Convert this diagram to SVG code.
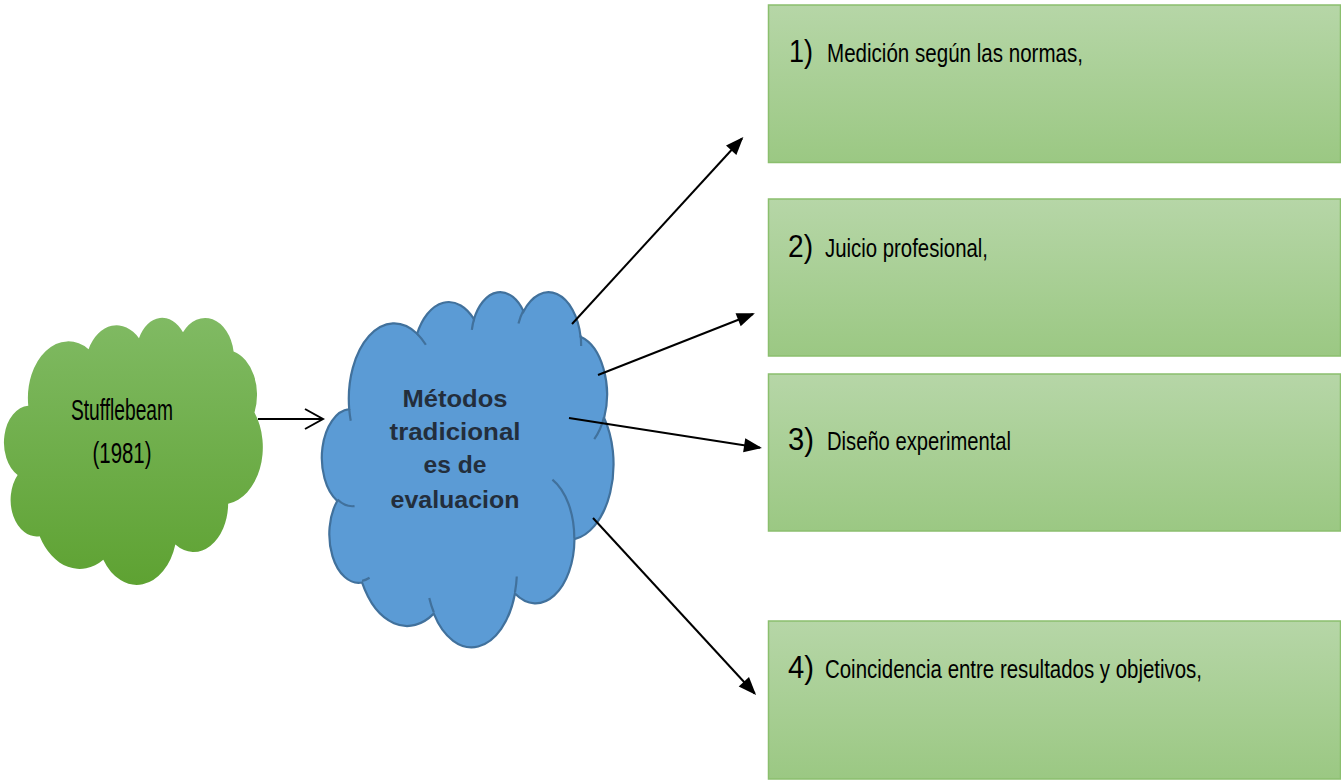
<svg xmlns="http://www.w3.org/2000/svg" width="1341" height="781" viewBox="0 0 1341 781">
<style>
.box{fill:url(#gBox);stroke:#8bbf6e;stroke-width:1.5}
.num{font-family:"Liberation Sans",Arial,sans-serif;font-size:31px;fill:#000}
.lbl{font-family:"Liberation Sans",Arial,sans-serif;font-size:25px;fill:#000}
.cl1{font-family:"Liberation Sans",Arial,sans-serif;font-size:30px;fill:#000;text-anchor:middle}
.cl2{font-family:"Liberation Sans",Arial,sans-serif;font-size:24px;font-weight:bold;fill:#232e3c;text-anchor:middle}
.arr{stroke:#000;stroke-width:2;fill:none}
.bc{stroke:#41719c;stroke-width:2.2}
</style>
<defs>
<linearGradient id="gBox" x1="0" y1="0" x2="0" y2="1">
<stop offset="0" stop-color="#b6d6a7"/><stop offset="1" stop-color="#9bc883"/>
</linearGradient>
<linearGradient id="gGreen" x1="0" y1="0" x2="0" y2="1">
<stop offset="0" stop-color="#80ba63"/><stop offset="1" stop-color="#5ea232"/>
</linearGradient>
<marker id="head" markerUnits="userSpaceOnUse" markerWidth="20" markerHeight="16" viewBox="0 -8 18 16" refX="16" refY="0" orient="auto">
<path d="M0,-7 L18,0 L0,7 Z" fill="#000"/>
</marker>
<marker id="open" markerUnits="userSpaceOnUse" markerWidth="22" markerHeight="24" viewBox="-20 -12 22 24" refX="0" refY="0" orient="auto">
<path d="M-18,-10 L0,0 L-18,10" fill="none" stroke="#000" stroke-width="2"/>
</marker>
</defs>

<g id="stufflebeam">
<path d="M3900 14370 A6753 9190 0 0 1 14005 5202 A5333 7267 0 0 1 22457 3431 A4365 5945 0 0 1 29835 2480 A4857 6595 0 0 1 38320 5575 A5333 7273 0 0 1 41820 15458 A6775 9220 0 0 1 37406 30200 A5785 7867 0 0 1 28557 36811 A6752 9215 0 0 1 16482 39263 A7720 10543 0 0 1 5808 35468 A4360 5918 0 0 1 2117 25545 A4345 5945 0 0 1 3900 14370 Z" transform="translate(5,317) scale(0.0059653,0.0061806)" fill="url(#gGreen)"/>
<text class="cl1" x="122" y="420" textLength="102" lengthAdjust="spacingAndGlyphs">Stufflebeam</text>
<text class="cl1" x="122" y="463" font-size="28" textLength="59" lengthAdjust="spacingAndGlyphs">(1981)</text>
</g>

<g id="metodos">
<g transform="translate(323,291) scale(0.0067222,0.0082176)">
<path class="bc" vector-effect="non-scaling-stroke" fill="#5b9bd5" d="M3900 14370 A6753 9190 0 0 1 14005 5202 A5333 7267 0 0 1 22457 3431 A4365 5945 0 0 1 29835 2480 A4857 6595 0 0 1 38320 5575 A5333 7273 0 0 1 41820 15458 A6775 9220 0 0 1 37406 30200 A5785 7867 0 0 1 28557 36811 A6752 9215 0 0 1 16482 39263 A7720 10543 0 0 1 5808 35468 A4360 5918 0 0 1 2117 25545 A4345 5945 0 0 1 3900 14370 Z"/>
<path class="bc" vector-effect="non-scaling-stroke" fill="none" d="M4693 26177 A4345 5945 0 0 1 2160 25380 M6928 34899 A4360 5918 0 0 1 5820 35280 M16478 39090 A6752 9215 0 0 1 15810 37348 M28827 34751 A6752 9215 0 0 1 28560 36660 M34129 22954 A5785 7867 0 0 1 37380 30090 M41798 15354 A5333 7273 0 0 1 40350 18030 M38324 5426 A4857 6595 0 0 1 38400 6690 M29078 3952 A4857 6595 0 0 1 29820 2340 M22141 4720 A4365 5945 0 0 1 22500 3331 M14000 5192 A6753 9190 0 0 1 15300 6541 M4127 15789 A6753 9190 0 0 1 3900 14371"/>
</g>
<text class="cl2" x="455" y="406.5" textLength="105" lengthAdjust="spacingAndGlyphs">Métodos</text>
<text class="cl2" x="455" y="440" textLength="131" lengthAdjust="spacingAndGlyphs">tradicional</text>
<text class="cl2" x="455" y="473" textLength="63" lengthAdjust="spacingAndGlyphs">es de</text>
<text class="cl2" x="455" y="508" textLength="129" lengthAdjust="spacingAndGlyphs">evaluacion</text>
</g>

<g id="box1">
<rect class="box" x="768.5" y="5" width="572" height="157.5"/>
<text class="num" x="789" y="62" textLength="24" lengthAdjust="spacingAndGlyphs">1)</text>
<text class="lbl" x="827" y="62" textLength="256" lengthAdjust="spacingAndGlyphs">Medición según las normas,</text>
</g>
<g id="box2">
<rect class="box" x="768.5" y="199" width="572" height="157"/>
<text class="num" x="788" y="256.5" textLength="25" lengthAdjust="spacingAndGlyphs">2)</text>
<text class="lbl" x="825" y="256.5" textLength="163" lengthAdjust="spacingAndGlyphs">Juicio profesional,</text>
</g>
<g id="box3">
<rect class="box" x="768.5" y="374" width="572" height="157"/>
<text class="num" x="788" y="450" textLength="26" lengthAdjust="spacingAndGlyphs">3)</text>
<text class="lbl" x="827" y="450" textLength="184" lengthAdjust="spacingAndGlyphs">Diseño experimental</text>
</g>
<g id="box4">
<rect class="box" x="768.5" y="621" width="572" height="158"/>
<text class="num" x="788" y="678" textLength="26" lengthAdjust="spacingAndGlyphs">4)</text>
<text class="lbl" x="825" y="678" textLength="377" lengthAdjust="spacingAndGlyphs">Coincidencia entre resultados y objetivos,</text>
</g>

<g id="connectors">
<line class="arr" x1="258" y1="419" x2="323" y2="419" marker-end="url(#open)"/>
<line class="arr" x1="572" y1="324" x2="742" y2="138.5" marker-end="url(#head)"/>
<line class="arr" x1="598" y1="375" x2="753" y2="314" marker-end="url(#head)"/>
<line class="arr" x1="569" y1="418" x2="760" y2="447.7" marker-end="url(#head)"/>
<line class="arr" x1="593" y1="518" x2="754.7" y2="693.5" marker-end="url(#head)"/>
</g>
</svg>
